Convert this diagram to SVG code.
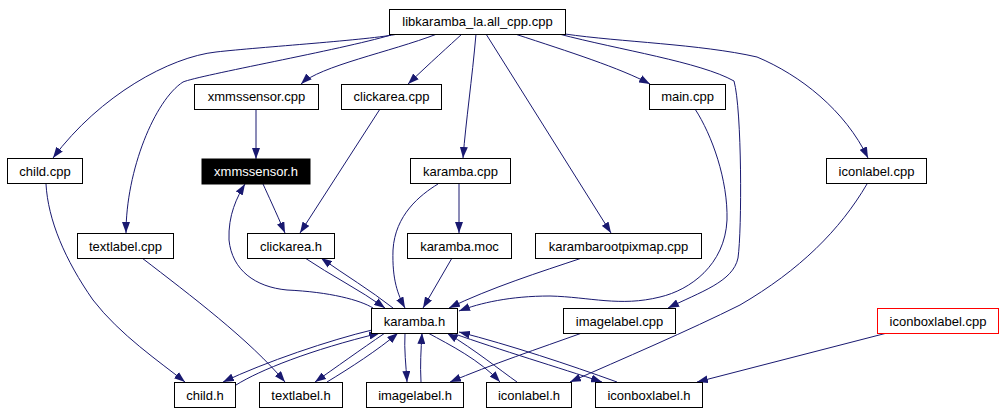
<svg xmlns="http://www.w3.org/2000/svg" width="1004" height="415" viewBox="0 0 1004 415">
<defs>
<marker id="ah" markerWidth="11" markerHeight="8" refX="11" refY="4" orient="auto" markerUnits="userSpaceOnUse"><path d="M0,0 L11,4 L0,8 z" fill="#191970"/></marker>
<style>
.e{fill:none;stroke:#191970;stroke-width:1;marker-end:url(#ah)}
.n rect{fill:#fff;stroke:#000;stroke-width:1}
.n text{font-family:"Liberation Sans",Arial,sans-serif;font-size:13px;text-anchor:middle;fill:#000}
</style>
</defs>
<rect width="1004" height="415" fill="#fff"/>
<g id="connectors">
<path class="e" d="M398,34 C370,40 260,47 216,52 C170,57 100,95 53,158"/>
<path class="e" d="M391,35 C340,50 200,75 183,82 C155,100 126,170 126,233"/>
<path class="e" d="M437,34 C390,52 320,66 301,84"/>
<path class="e" d="M462,34 C450,45 430,63 408,84"/>
<path class="e" d="M476,34 C472,80 466,120 463,158"/>
<path class="e" d="M486,34 L611,233"/>
<path class="e" d="M515,34 C570,52 620,68 650,84"/>
<path class="e" d="M559,34 C620,50 700,62 734,81 C742,110 742,230 738,258 C733,282 700,292 668,308"/>
<path class="e" d="M565,34 C620,42 700,44 757,57 C800,75 845,110 868,158"/>
<path class="e" d="M256,109 L256,159"/>
<path class="e" d="M380,109 L300,233"/>
<path class="e" d="M263,184 C268,195 275,210 285,233"/>
<path class="e" d="M695,109 C712,135 728,180 727,220 C725,265 690,290 660,297 C620,307 590,297 550,296 C510,296 480,303 459,311"/>
<path class="e" d="M582,258 C540,272 490,288 449,308"/>
<path class="e" d="M438,184 C420,195 395,215 393,250 C392,280 398,295 405,308"/>
<path class="e" d="M459,184 L459,233"/>
<path class="e" d="M452,258 L423,308"/>
<path class="e" d="M305,258 C330,275 360,290 385,308"/>
<path class="e" d="M393,308 C370,290 345,275 321,258"/>
<path class="e" d="M373,308 C360,300 330,292 287,290 C255,287 232,270 229,240 C228,215 237,197 245,184"/>
<path class="e" d="M46,184 C48,220 65,260 93,300 C120,335 160,362 185,382"/>
<path class="e" d="M142,258 C190,295 250,340 285,382"/>
<path class="e" d="M372,330 C330,340 265,362 223,382"/>
<path class="e" d="M236,385 C260,370 310,350 380,333"/>
<path class="e" d="M385,333 C360,350 335,368 315,382"/>
<path class="e" d="M327,382 C350,368 378,350 398,333"/>
<path class="e" d="M405,333 C404,350 406,365 407,382"/>
<path class="e" d="M421,382 C420,365 421,350 422,333"/>
<path class="e" d="M582,333 C540,348 490,365 450,382"/>
<path class="e" d="M428,333 C450,345 480,360 500,382"/>
<path class="e" d="M517,382 C500,370 475,350 447,333"/>
<path class="e" d="M452,333 C500,350 560,368 602,382"/>
<path class="e" d="M617,382 C570,365 510,345 459,332"/>
<path class="e" d="M867,184 C840,230 800,270 740,305 C690,330 620,360 570,382"/>
<path class="e" d="M887,333 L697,382"/>
</g>
<g id="n_all" class="n"><rect x="389.5" y="9.5" width="176" height="25"/><text x="477.5" y="26">libkaramba_la.all_cpp.cpp</text></g>
<g id="n_xmmssensor_cpp" class="n"><rect x="194.5" y="84.5" width="124" height="25"/><text x="256.5" y="101">xmmssensor.cpp</text></g>
<g id="n_clickarea_cpp" class="n"><rect x="341.5" y="84.5" width="100" height="25"/><text x="391.5" y="101">clickarea.cpp</text></g>
<g id="n_main_cpp" class="n"><rect x="649.5" y="84.5" width="76" height="25"/><text x="687.5" y="101">main.cpp</text></g>
<g id="n_child_cpp" class="n"><rect x="7.5" y="158.5" width="75" height="25"/><text x="45" y="176">child.cpp</text></g>
<g id="n_xmmssensor_h" class="n"><rect x="202" y="159" width="108" height="25" style="fill:#000;stroke:#000"/><text x="256" y="176" style="fill:#fff">xmmssensor.h</text></g>
<g id="n_karamba_cpp" class="n"><rect x="410.5" y="158.5" width="100" height="25"/><text x="460.5" y="176">karamba.cpp</text></g>
<g id="n_iconlabel_cpp" class="n"><rect x="826.5" y="158.5" width="100" height="25"/><text x="876.5" y="176">iconlabel.cpp</text></g>
<g id="n_textlabel_cpp" class="n"><rect x="77.5" y="233.5" width="96" height="25"/><text x="125.5" y="251">textlabel.cpp</text></g>
<g id="n_clickarea_h" class="n"><rect x="247.5" y="233.5" width="87" height="25"/><text x="291" y="251">clickarea.h</text></g>
<g id="n_karamba_moc" class="n"><rect x="407.5" y="233.5" width="104" height="25"/><text x="459.5" y="251">karamba.moc</text></g>
<g id="n_karambarootpixmap_cpp" class="n"><rect x="535.5" y="233.5" width="166" height="25"/><text x="618.5" y="251">karambarootpixmap.cpp</text></g>
<g id="n_karamba_h" class="n"><rect x="371.5" y="308.5" width="86" height="25"/><text x="414.5" y="326">karamba.h</text></g>
<g id="n_imagelabel_cpp" class="n"><rect x="563.5" y="308.5" width="112" height="25"/><text x="619.5" y="326">imagelabel.cpp</text></g>
<g id="n_iconboxlabel_cpp" class="n"><rect x="877.5" y="308.5" width="121" height="25" style="stroke:#ff0000"/><text x="938" y="326">iconboxlabel.cpp</text></g>
<g id="n_child_h" class="n"><rect x="174.5" y="382.5" width="61" height="25"/><text x="205" y="400">child.h</text></g>
<g id="n_textlabel_h" class="n"><rect x="259.5" y="382.5" width="83" height="25"/><text x="301" y="400">textlabel.h</text></g>
<g id="n_imagelabel_h" class="n"><rect x="366.5" y="382.5" width="97" height="25"/><text x="415" y="400">imagelabel.h</text></g>
<g id="n_iconlabel_h" class="n"><rect x="486.5" y="382.5" width="85" height="25"/><text x="529" y="400">iconlabel.h</text></g>
<g id="n_iconboxlabel_h" class="n"><rect x="595.5" y="382.5" width="107" height="25"/><text x="649" y="400">iconboxlabel.h</text></g>
</svg>
